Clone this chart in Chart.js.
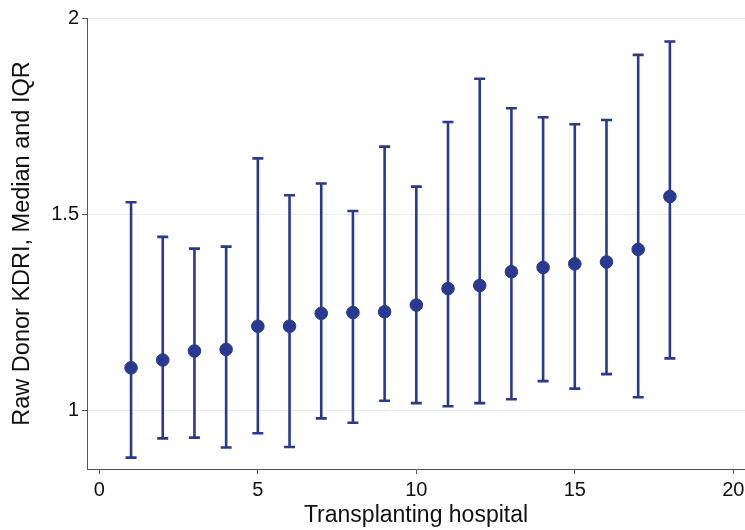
<!DOCTYPE html>
<html>
<head>
<meta charset="utf-8">
<script src="https://cdn.jsdelivr.net/npm/chart.js@4/dist/chart.umd.min.js"></script>
<style>
  html, body { margin: 0; padding: 0; background: #fff; }
  #wrap { width: 745px; height: 530px; }
</style>
</head>
<body>
<div id="wrap"><canvas id="chart"></canvas></div>
<script>
const hospital = [1, 2, 3, 4, 5, 6, 7, 8, 9, 10, 11, 12, 13, 14, 15, 16, 17, 18];
const median = [1.108, 1.128, 1.151, 1.155, 1.214, 1.214, 1.247, 1.249, 1.251, 1.268, 1.310, 1.318, 1.353, 1.364, 1.373, 1.378, 1.410, 1.545];
const q1 = [0.879, 0.928, 0.930, 0.905, 0.941, 0.906, 0.979, 0.968, 1.024, 1.018, 1.010, 1.018, 1.028, 1.074, 1.055, 1.092, 1.033, 1.132];
const q3 = [1.530, 1.442, 1.412, 1.417, 1.642, 1.548, 1.578, 1.508, 1.672, 1.570, 1.735, 1.845, 1.770, 1.747, 1.729, 1.740, 1.906, 1.940];
const xTicks = [0, 5, 10, 15, 20];
const yTicks = [1, 1.5, 2];

const navy = 'rgb(42,57,144)';
const axisColor = '#555';

// IQR whiskers with caps, drawn under the median dots
const iqrBars = {
    id: 'iqrBars',
    beforeDatasetsDraw(chart) {
        const {ctx, scales: {x, y}} = chart;
        ctx.save();
        ctx.strokeStyle = navy;
        ctx.lineWidth = 2.6;
        ctx.lineCap = 'butt';
        hospital.forEach((h, i) => {
            const px = x.getPixelForValue(h);
            const lo = y.getPixelForValue(q1[i]);
            const hi = y.getPixelForValue(q3[i]);
            ctx.beginPath();
            ctx.moveTo(px, lo); ctx.lineTo(px, hi);
            ctx.moveTo(px - 5.5, lo); ctx.lineTo(px + 5.5, lo);
            ctx.moveTo(px - 5.5, hi); ctx.lineTo(px + 5.5, hi);
            ctx.stroke();
        });
        ctx.restore();
    }
};

Chart.defaults.font.family = '"Liberation Sans", Arial, sans-serif';
Chart.defaults.color = '#111';

new Chart(document.getElementById('chart'), {
    type: 'scatter',
    data: {
        datasets: [{
            data: hospital.map((h, i) => ({x: h, y: median[i]})),
            backgroundColor: navy,
            borderColor: navy,
            pointRadius: 6.3,
            pointHoverRadius: 6.3
        }]
    },
    options: {
        responsive: true,
        maintainAspectRatio: false,
        animation: false,
        layout: {autoPadding: false, padding: {top: 18, right: 0, bottom: 0, left: 0}},
        plugins: {legend: {display: false}, tooltip: {enabled: false}},
        scales: {
            x: {
                type: 'linear',
                min: -0.39,
                max: 20.37,
                afterBuildTicks: s => { s.ticks = xTicks.map(v => ({value: v})); },
                afterFit: s => { s.height = 61; s.paddingRight = 0; s.paddingLeft = 0; },
                ticks: {font: {size: 20}, padding: 4, color: '#111', maxRotation: 0},
                grid: {drawOnChartArea: false, drawTicks: true, tickLength: 5, tickColor: axisColor},
                border: {color: axisColor, width: 1},
                title: {display: true, text: 'Transplanting hospital', font: {size: 23}, color: '#111', padding: {top: 0, bottom: 1}}
            },
            y: {
                type: 'linear',
                min: 0.85,
                max: 2.0,
                afterBuildTicks: s => { s.ticks = yTicks.map(v => ({value: v})); },
                afterFit: s => { s.width = 87; },
                ticks: {font: {size: 20}, padding: 3, color: '#111', callback: v => String(v)},
                grid: {color: '#e6edf1', lineWidth: 1, drawTicks: true, tickLength: 5, tickColor: axisColor},
                border: {color: axisColor, width: 1},
                title: {display: true, text: 'Raw Donor KDRI, Median and IQR', font: {size: 23.5}, color: '#111', padding: {top: 8, bottom: 0}}
            }
        }
    },
    plugins: [iqrBars]
});
</script>
</body>
</html>
